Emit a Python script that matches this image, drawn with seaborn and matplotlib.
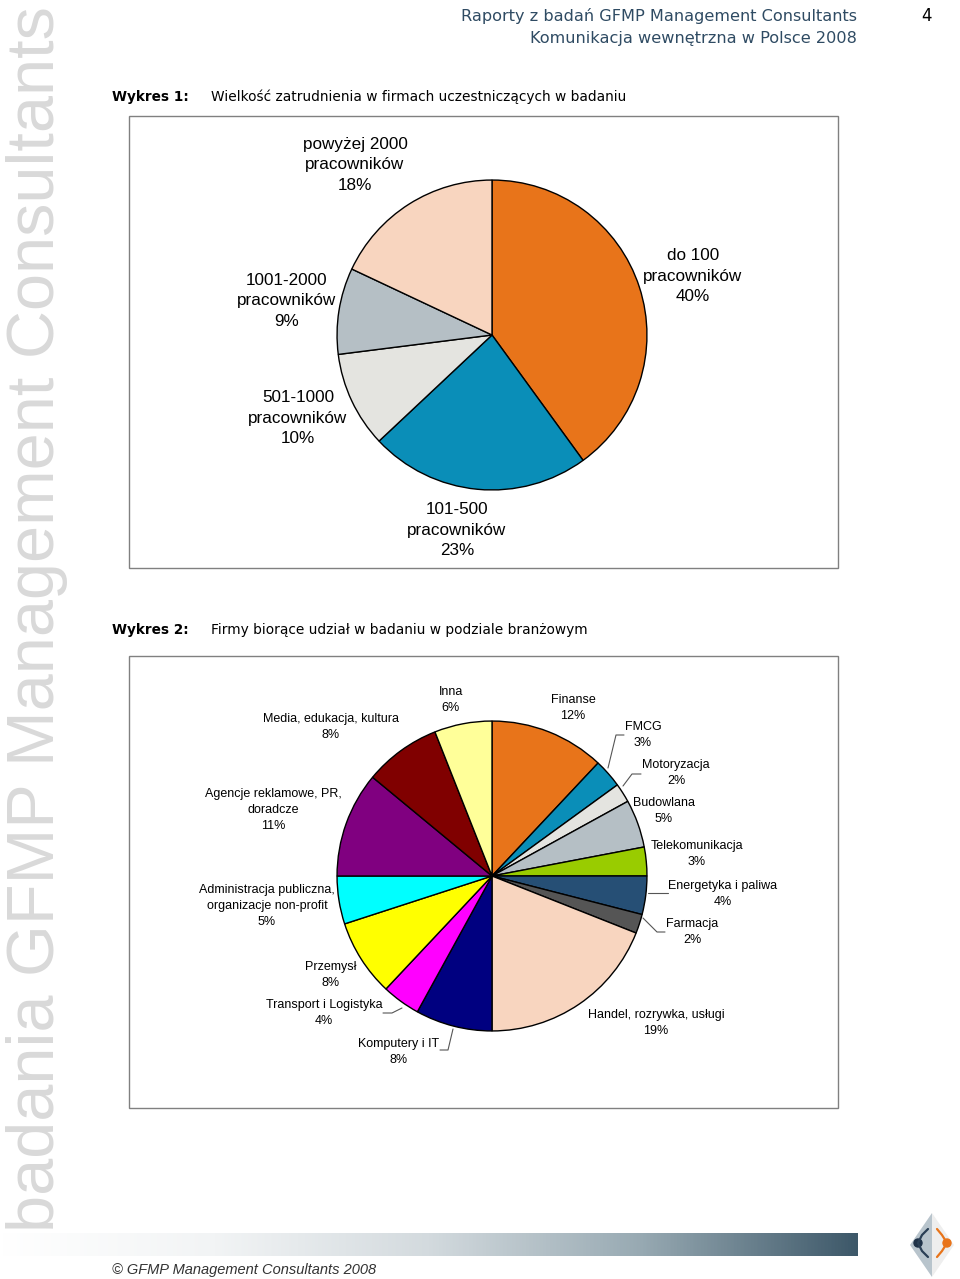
import numpy as np
import seaborn as sns
import matplotlib.pyplot as plt
from matplotlib.colors import LinearSegmentedColormap
from matplotlib.patches import Rectangle, Polygon, Circle

# --- data ---
size_labels = ['do 100\npracowników\n40%', '101-500\npracowników\n23%', '501-1000\npracowników\n10%',
               '1001-2000\npracowników\n9%', 'powyżej 2000\npracowników\n18%']
size_values = [40, 23, 10, 9, 18]
size_colors = ['#E8741A', '#0A8EB8', '#E4E4E0', '#B5BFC5', '#F8D5BF']

branch_labels = ['Finanse\n12%', 'FMCG\n3%', 'Motoryzacja\n2%', 'Budowlana\n5%', 'Telekomunikacja\n3%',
                 'Energetyka i paliwa\n4%', 'Farmacja\n2%', 'Handel, rozrywka, usługi\n19%',
                 'Komputery i IT\n8%', 'Transport i Logistyka\n4%', 'Przemysł\n8%',
                 'Administracja publiczna,\norganizacje non-profit\n5%',
                 'Agencje reklamowe, PR,\ndoradcze\n11%', 'Media, edukacja, kultura\n8%', 'Inna\n6%']
branch_values = [12, 3, 2, 5, 3, 4, 2, 19, 8, 4, 8, 5, 11, 8, 6]
branch_colors = ['#E8741A', '#0A8EB8', '#E4E4E0', '#B5BFC5', '#99CC00', '#264F75', '#555555', '#F8D5BF',
                 '#000080', '#FF00FF', '#FFFF00', '#00FFFF', '#800080', '#800000', '#FFFF99']

# label positions in page pixels
size_pos = [(693, 276), (457, 530), (298, 418), (287, 301), (355, 165)]
branch_pos = [(573, 708), (643, 735), (676, 773), (664, 811), (697, 854), (723, 894), (692, 932),
              (656, 1023), (399, 1052), (324, 1013), (331, 975), (267, 906), (273, 810), (331, 727),
              (451, 700)]
leaders = [[(608, 768), (616, 735), (624, 735)],
           [(623, 786), (632, 774), (641, 774)],
           [(648, 893), (668, 893)],
           [(643, 918), (657, 932), (665, 932)],
           [(402, 1008), (392, 1013), (383, 1013)],
           [(453, 1029), (448, 1050), (440, 1050)]]

sns.set_theme(style='white')
plt.rcParams['font.family'] = ['DejaVu Sans']
narrow = ['Liberation Sans', 'DejaVu Sans']

W, H = 960, 1279
fig = plt.figure(figsize=(W / 100, H / 100), dpi=100)
fig.patch.set_facecolor('white')

page = fig.add_axes([0, 0, 1, 1], zorder=0)
page.set_xlim(0, W)
page.set_ylim(H, 0)
page.axis('off')

# watermark
page.text(6, 1232, 'badania GFMP Management Consultants', rotation=90, ha='left', va='bottom',
          fontsize=48, color='#D9D9D9', family=narrow)

# header
page.text(857, 16, 'Raporty z badań GFMP Management Consultants', ha='right', va='center',
          fontsize=11.6, color='#2F4B63')
page.text(857, 38, 'Komunikacja wewnętrzna w Polsce 2008', ha='right', va='center',
          fontsize=11.6, color='#2F4B63')
page.text(927, 16, '4', ha='center', va='center', fontsize=12, color='black')

# titles
for num, y, t in [(1, 97, 'Wielkość zatrudnienia w firmach uczestniczących w badaniu'),
                  (2, 630, 'Firmy biorące udział w badaniu w podziale branżowym')]:
    page.text(112, y, 'Wykres %d:' % num, ha='left', va='center', fontsize=9.8,
              fontweight='bold', color='black')
    page.text(211, y, t, ha='left', va='center', fontsize=9.9, color='black')

# frames
for top in (116, 656):
    page.add_patch(Rectangle((129, top), 709, 452, fill=False, edgecolor='#808080', linewidth=1))


def pie_axes(cx, cy, r):
    ax = fig.add_axes([(cx - r) / W, (H - cy - r) / H, 2 * r / W, 2 * r / H], zorder=1)
    ax.set_facecolor('none')
    return ax


ax1 = pie_axes(492, 335, 156.5)
ax1.pie(size_values, colors=size_colors, startangle=90, counterclock=False,
        wedgeprops=dict(edgecolor='black', linewidth=1))
ax1.set_xlim(-1.01, 1.01)
ax1.set_ylim(-1.01, 1.01)
ax1.axis('off')

ax2 = pie_axes(492, 876, 156.5)
ax2.pie(branch_values, colors=branch_colors, startangle=90, counterclock=False,
        wedgeprops=dict(edgecolor='black', linewidth=1))
ax2.set_xlim(-1.01, 1.01)
ax2.set_ylim(-1.01, 1.01)
ax2.axis('off')

for (x, y), lab in zip(size_pos, size_labels):
    page.text(x, y, lab, ha='center', va='center', fontsize=12.3, linespacing=1.45,
              family=narrow, color='black')
for (x, y), lab in zip(branch_pos, branch_labels):
    page.text(x, y, lab, ha='center', va='center', fontsize=9, linespacing=1.4,
              family=narrow, color='black')
for pts in leaders:
    xs, ys = zip(*pts)
    page.plot(xs, ys, color='#555555', linewidth=0.8)

# footer gradient bar
cmap = LinearSegmentedColormap.from_list('bar', ['#FFFFFF', '#F2F4F5', '#D3DADE', '#97A9B2', '#3D5869'])
page.imshow(np.linspace(0, 1, 512)[None, :], extent=[0, 858, 1256, 1233], cmap=cmap, aspect='auto',
            zorder=1)
page.set_xlim(0, W)
page.set_ylim(H, 0)
page.text(112, 1270, '© GFMP Management Consultants 2008', ha='left', va='center', fontsize=10.5,
          style='italic', color='#333333', family=narrow)

# logo
page.add_patch(Polygon([(932, 1213), (910, 1245), (932, 1277)], closed=True, facecolor='#B8C4CC',
                       edgecolor='none'))
page.add_patch(Polygon([(932, 1213), (954, 1245), (932, 1277)], closed=True, facecolor='#EEEEEE',
                       edgecolor='none'))
page.plot([918, 922, 928], [1243, 1235, 1229], color='#2A3F55', linewidth=1.6)
page.plot([918, 922, 928], [1243, 1251, 1257], color='#2A3F55', linewidth=1.6)
page.plot([947, 942, 937], [1243, 1235, 1229], color='#E8741A', linewidth=1.6)
page.plot([947, 942, 937], [1243, 1251, 1257], color='#E8741A', linewidth=1.6)
page.add_patch(Circle((918, 1243), 4, color='#1F3248'))
page.add_patch(Circle((947, 1243), 4, color='#E8741A'))

fig.savefig('out.png', dpi=100, facecolor='white')
